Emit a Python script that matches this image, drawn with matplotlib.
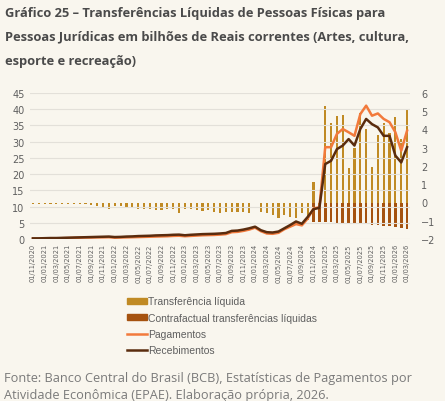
import numpy as np
import matplotlib
matplotlib.use("Agg")
from matplotlib import pyplot as plt
from matplotlib.patches import Patch
from matplotlib.lines import Line2D

# meses de 11/2020 a 03/2026
meses = [f"01/{m:02d}/{a}" for a in range(2020, 2027) for m in range(1, 13)]
meses = meses[meses.index("01/11/2020"):meses.index("01/03/2026") + 1]

transferencia = [-0.07, -0.07, -0.06, -0.07, -0.07, -0.07, -0.06, -0.07, -0.08, -0.09,
                 -0.15, -0.18, -0.22, -0.33, -0.18, -0.2, -0.24, -0.27, -0.33, -0.37,
                 -0.37, -0.4, -0.42, -0.33, -0.37, -0.57, -0.33, -0.38, -0.42, -0.46,
                 -0.42, -0.51, -0.55, -0.51, -0.53, -0.53, -0.53, -0.6, -0.05, -0.5,
                 -0.6, -0.66, -0.85, -0.7, -0.8, -0.87, -0.6, -0.95, 1.12, -0.3,
                 5.3, 4.35, 4.72, 4.82, 1.9, 2.99, 4.9, 4.03, 1.95, 3.7,
                 4.37, 3.8, 4.71, 3.5, 5.07]

contrafactual = [0.0] * 48 + [-1.05, -1.06, -1.07, -1.08, -1.1, -1.12, -1.13, -1.15, -1.18,
                              -1.2, -1.22, -1.25, -1.28, -1.3, -1.33, -1.4, -1.45]

recebimentos = [0.2, 0.2, 0.25, 0.3, 0.3, 0.35, 0.4, 0.45, 0.5, 0.55,
                0.6, 0.65, 0.7, 0.75, 0.6, 0.65, 0.75, 0.8, 0.9, 0.95,
                1.0, 1.1, 1.15, 1.2, 1.3, 1.35, 1.15, 1.3, 1.4, 1.5,
                1.55, 1.6, 1.7, 1.85, 2.5, 2.6, 2.9, 3.3, 3.8, 2.7,
                2.1, 2.0, 2.3, 3.3, 4.3, 5.4, 4.7, 6.8, 9.2, 9.6,
                23.1, 24.1, 27.7, 28.8, 30.8, 28.8, 33.9, 37.0, 35.4, 34.4,
                31.8, 31.8, 25.7, 23.6, 28.3]

pagamentos = [0.1, 0.1, 0.15, 0.2, 0.2, 0.25, 0.3, 0.35, 0.4, 0.45,
              0.45, 0.5, 0.5, 0.55, 0.4, 0.45, 0.5, 0.55, 0.6, 0.65,
              0.7, 0.75, 0.8, 0.85, 0.95, 1.0, 0.85, 0.95, 1.05, 1.15,
              1.2, 1.25, 1.35, 1.5, 2.1, 2.2, 2.5, 2.9, 3.5, 2.4,
              1.7, 1.6, 1.9, 3.0, 3.8, 4.6, 4.2, 6.3, 9.4, 9.8,
              28.3, 28.3, 32.4, 33.9, 32.9, 31.8, 38.5, 41.1, 38.0, 38.7,
              37.0, 36.0, 32.9, 27.2, 33.4]

fundo = "#f9f6ee"
cinza = "#5f5f5f"
c_transf = "#c08a24"
c_contra = "#a5520f"
c_pag = "#f27a3c"
c_rec = "#5a2c0e"

fig = plt.figure(figsize=(4.45, 4.02), dpi=100, facecolor=fundo)
ax = fig.add_axes([30 / 445, 162 / 402, 380 / 445, 146 / 402])
ax2 = ax.twinx()

x = np.arange(len(meses))
ax2.bar(x, contrafactual, width=0.45, color=c_contra, zorder=2)
ax2.bar(x, transferencia, width=0.38, color=c_transf, zorder=3)
ax2.set_ylim(-2, 6)
ax2.set_yticks(range(-2, 7))

ax.plot(x, pagamentos, color=c_pag, lw=1.8, zorder=4)
ax.plot(x, recebimentos, color=c_rec, lw=1.8, zorder=5)
ax.set_ylim(0, 45)
ax.set_yticks(range(0, 46, 5))
ax.set_xlim(-0.5, len(meses) - 0.5)
ax.set_xticks(x[::2])
ax.set_xticklabels(meses[::2], rotation=90, fontsize=4.8, color=cinza)
ax.grid(axis="y", color="#e3e0d9", lw=0.8, zorder=0)
ax.set_zorder(ax2.get_zorder() + 1)
ax.patch.set_visible(False)
ax2.patch.set_facecolor(fundo)

for a in (ax, ax2):
    for s in a.spines.values():
        s.set_visible(False)
    a.tick_params(length=0, labelsize=7, labelcolor=cinza, pad=4)
ax2.tick_params(pad=8)
ax.tick_params(axis="x", labelsize=4.8, pad=3)

fig.text(0.012, 0.983, "Gráfico 25 – Transferências Líquidas de Pessoas Físicas para\n"
         "Pessoas Jurídicas em bilhões de Reais correntes (Artes, cultura,\n"
         "esporte e recreação)", fontsize=9.3, fontweight="bold", color="#4a4a4a",
         family="Open Sans", va="top", linespacing=2.1)

handles = [Patch(color=c_transf), Patch(color=c_contra),
           Line2D([], [], color=c_pag, lw=1.8), Line2D([], [], color=c_rec, lw=1.8)]
labels = ["Transferência líquida", "Contrafactual transferências líquidas",
          "Pagamentos", "Recebimentos"]
fig.legend(handles, labels, loc="upper left", bbox_to_anchor=(118 / 445, 1 - 288 / 402),
           frameon=False, handlelength=1.9, handleheight=0.5,
           handletextpad=0.1, labelspacing=0.6, labelcolor=cinza,
           prop={"family": "Liberation Sans", "size": 7.5})

fig.text(0.008, 1 - 387 / 402, "Fonte: Banco Central do Brasil (BCB), Estatísticas de Pagamentos por\n"
         "Atividade Econômica (EPAE). Elaboração própria, 2026.", fontsize=9.2,
         color="#7a7a7a", family="Open Sans", va="center", linespacing=1.45)

fig.savefig("out.png", dpi=100, facecolor=fundo)
